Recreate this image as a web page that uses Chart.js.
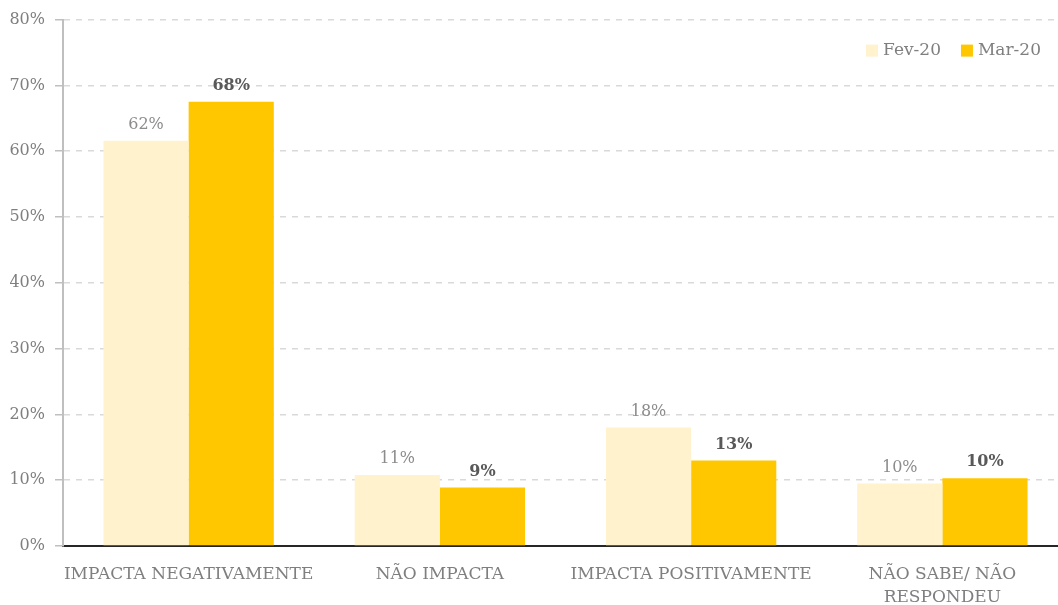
<!DOCTYPE html>
<html>
<head>
<meta charset="utf-8">
<script src="https://cdn.jsdelivr.net/npm/chart.js@4.4.0/dist/chart.umd.min.js"></script>
<style>
  html, body { margin: 0; padding: 0; background: #fff; overflow: hidden; }
  #wrap { width: 1068px; height: 605px; position: relative; }
</style>
</head>
<body>
<div id="wrap"><canvas id="grafico"></canvas></div>
<script>
// dados
var categorias = [
    "IMPACTA NEGATIVAMENTE",
    "NÃO IMPACTA",
    "IMPACTA POSITIVAMENTE",
    ["NÃO SABE/ NÃO", "RESPONDEU"]
];
var fev20 = [61.6, 10.8, 18.0, 9.5];
var mar20 = [67.5, 8.9, 13.0, 10.3];
var ticksY = [0, 10, 20, 30, 40, 50, 60, 70, 80];

var fonte = "'DejaVu Serif', 'Liberation Serif', serif";

// rotulos em cima das barras
var rotulos = {
    id: "rotulos",
    afterDatasetsDraw: function (chart) {
        var ctx = chart.ctx;
        ctx.save();
        ctx.textAlign = "center";
        ctx.textBaseline = "bottom";
        chart.data.datasets.forEach(function (ds, i) {
            var meta = chart.getDatasetMeta(i);
            meta.data.forEach(function (bar, j) {
                if (i === 0) {
                    ctx.font = "16px " + fonte;
                    ctx.fillStyle = "#8c8c8c";
                } else {
                    ctx.font = "bold 16px " + fonte;
                    ctx.fillStyle = "#595959";
                }
                ctx.fillText(Math.round(ds.data[j]) + "%", bar.x, bar.y - 8);
            });
        });
        ctx.restore();
    }
};

// legenda dentro da area, canto superior direito (janela tem 1058 de largura)
var legenda = {
    id: "legenda",
    afterDraw: function (chart) {
        var ctx = chart.ctx;
        ctx.save();
        ctx.font = "17px " + fonte;
        ctx.textBaseline = "middle";
        ctx.textAlign = "left";
        var y = chart.chartArea.top + 31;
        var x = 1058 - 17;
        var ds = chart.data.datasets.slice().reverse();
        ds.forEach(function (d) {
            var w = ctx.measureText(d.label).width;
            x -= w;
            ctx.fillStyle = "#7f7f7f";
            ctx.fillText(d.label, x, y);
            x -= 17;
            ctx.fillStyle = d.backgroundColor;
            ctx.fillRect(x, y - 6, 12, 12);
            x -= 20;
        });
        ctx.restore();
    }
};

var ctx = document.getElementById("grafico");
var grafico = new Chart(ctx, {
    type: "bar",
    data: {
        labels: categorias,
        datasets: [{
            label: "Fev-20",
            data: fev20,
            backgroundColor: "#FFF2CC"
        }, {
            label: "Mar-20",
            data: mar20,
            backgroundColor: "#FFC700"
        }]
    },
    options: {
        responsive: true,
        maintainAspectRatio: false,
        animation: false,
        datasets: {
            bar: { categoryPercentage: 0.678, barPercentage: 1.0 }
        },
        layout: { padding: { top: 15, right: 0, bottom: 0, left: 0 } },
        plugins: {
            legend: { display: false },
            tooltip: { enabled: false }
        },
        scales: {
            x: {
                afterFit: function (axis) { axis.height = 59; },
                grid: { display: false, drawTicks: false },
                border: { color: "#262626", width: 2 },
                ticks: {
                    color: "#7f7f7f",
                    padding: 17,
                    autoSkip: false,
                    maxRotation: 0,
                    font: { family: fonte, size: 17, lineHeight: 1.35 }
                }
            },
            y: {
                min: 0,
                max: 80,
                afterFit: function (axis) { axis.width = 63; },
                afterBuildTicks: function (axis) {
                    axis.ticks = ticksY.map(function (v) { return { value: v }; });
                },
                grid: {
                    color: "#d9d9d9",
                    lineWidth: 1.5,
                    tickLength: 8,
                    tickColor: "#bfbfbf"
                },
                border: { color: "#bfbfbf", width: 2, dash: [6, 6] },
                ticks: {
                    color: "#7f7f7f",
                    padding: 10,
                    font: { family: fonte, size: 16 },
                    callback: function (v) { return v + "%"; }
                }
            }
        }
    },
    plugins: [rotulos, legenda]
});
</script>
</body>
</html>
